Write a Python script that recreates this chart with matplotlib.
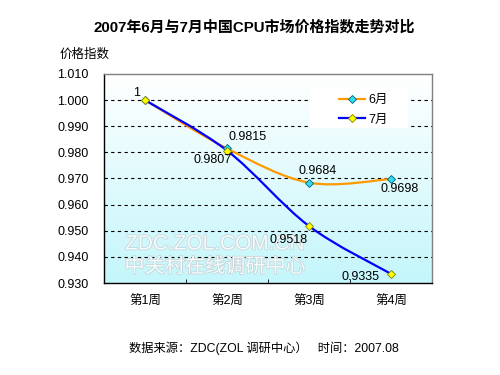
import numpy as np
import matplotlib
matplotlib.use("Agg")
import matplotlib.pyplot as plt
from matplotlib.path import Path
from matplotlib.patches import PathPatch, Rectangle
import matplotlib.patheffects as pe
from matplotlib.lines import Line2D
from matplotlib.colors import LinearSegmentedColormap

plt.rcParams['font.family'] = ['Liberation Sans', 'Noto Sans CJK SC', 'DejaVu Sans']

weeks = ['第1周', '第2周', '第3周', '第4周']
june = [1.0, 0.9815, 0.9684, 0.9698]
july = [1.0, 0.9807, 0.9518, 0.9335]
june_labels = ['', '0.9815', '0.9684', '0.9698']
july_labels = ['1', '0.9807', '0.9518', '0.9335']
yticks = [0.930, 0.940, 0.950, 0.960, 0.970, 0.980, 0.990, 1.000, 1.010]

fig = plt.figure(figsize=(5, 3.75), dpi=100)
ax = fig.add_axes([0.208, 0.2453, 0.656, 0.5574])

x = np.arange(len(weeks))
ax.set_xlim(-0.5, len(weeks) - 0.5)
ax.set_ylim(0.930, 1.010)

# gradient background: white top -> light cyan bottom
grad = np.linspace(0, 1, 256).reshape(-1, 1)
cmap = LinearSegmentedColormap.from_list('bg', ['#ffffff', '#c4f6fb'])
ax.imshow(grad, aspect='auto', cmap=cmap, extent=[-0.5, len(weeks) - 0.5, 0.930, 1.010],
          origin='upper', zorder=0)

for yv in yticks[1:-1]:
    ax.axhline(yv, color='black', lw=0.8, ls=(0, (3, 3)), zorder=1)

# legend background box
ax.add_patch(Rectangle((0.628, 0.742), 0.299, 0.196, transform=ax.transAxes,
                       facecolor='white', edgecolor='none', zorder=1.5))


def smooth_path(xs, ys):
    pts = np.column_stack([xs, ys]).astype(float)
    n = len(pts)
    verts = [pts[0]]
    codes = [Path.MOVETO]
    for i in range(n - 1):
        p0 = pts[i - 1] if i > 0 else pts[i]
        p1 = pts[i]
        p2 = pts[i + 1]
        p3 = pts[i + 2] if i + 2 < n else pts[i + 1]
        c1 = p1 + (p2 - p0) / 6.0
        c2 = p2 - (p3 - p1) / 6.0
        verts += [c1, c2, p2]
        codes += [Path.CURVE4] * 3
    return Path(verts, codes)


# watermark (behind the data labels)
wm_fx = [pe.withStroke(linewidth=1.0, foreground='#c4d0d4')]
ax.text(215 / 500, 1 - 244 / 375, 'ZDC.ZOL.COM.CN', fontsize=15, color='#f6fcfc',
        ha='center', va='center', path_effects=wm_fx, zorder=2,
        transform=fig.transFigure, family=['Liberation Sans'])
ax.text(215 / 500, 1 - 267 / 375, '中关村在线调研中心', fontsize=14.5, color='#f6fcfc',
        ha='center', va='center', path_effects=wm_fx, zorder=2,
        transform=fig.transFigure, family=['Noto Sans CJK SC'])

ax.add_patch(PathPatch(smooth_path(x, june), fill=False, edgecolor='#ff9900', lw=1.6, zorder=3))
ax.add_patch(PathPatch(smooth_path(x, july), fill=False, edgecolor='#0000ff', lw=1.6, zorder=4))
ax.plot(x, june, ls='none', marker='D', ms=4.5, mfc='#33ddee', mec='#006080', mew=0.6, zorder=5)
ax.plot(x, july, ls='none', marker='D', ms=4.5, mfc='#ffff00', mec='#808000', mew=0.6, zorder=6)

fs = 9
june_off = [(0, 0), (21, 11), (9, 12), (9, -10)]
july_off = [(-8, 7), (-14, -9), (-20, -14), (-30, -3)]
for i in range(len(weeks)):
    if june_labels[i]:
        ax.annotate(june_labels[i], (x[i], june[i]), xytext=june_off[i], textcoords='offset pixels',
                    ha='center', va='center', fontsize=fs, zorder=7)
    if july_labels[i]:
        ax.annotate(july_labels[i], (x[i], july[i]), xytext=july_off[i], textcoords='offset pixels',
                    ha='center', va='center', fontsize=fs, zorder=7)

ax.set_yticks(yticks)
ax.set_yticklabels(['%.3f' % v for v in yticks], fontsize=fs)
ax.tick_params(axis='y', length=0, pad=11)
ax.set_xticks(x)
ax.set_xticklabels(weeks, fontsize=fs)
ax.tick_params(axis='x', which='major', length=0, pad=9)
ax.set_xticks(x[:-1] + 0.5, minor=True)
ax.tick_params(axis='x', which='minor', direction='in', length=3, color='black')
for s in ['left', 'bottom']:
    ax.spines[s].set_color('black')
    ax.spines[s].set_linewidth(1)
for s in ['top', 'right']:
    ax.spines[s].set_color('#808080')
    ax.spines[s].set_linewidth(1)

# legend
h1 = Line2D([], [], color='#ff9900', lw=1.6, marker='D', ms=4.5, mfc='#33ddee', mec='#006080', mew=0.6)
h2 = Line2D([], [], color='#0000ff', lw=1.6, marker='D', ms=4.5, mfc='#ffff00', mec='#808000', mew=0.6)
leg = ax.legend([h1, h2], ['6月', '7月'], loc='upper left', bbox_to_anchor=(0.715, 0.904),
                frameon=False, fontsize=fs, handlelength=2.1, borderpad=0, borderaxespad=0,
                labelspacing=0.6, handletextpad=0.3)
leg.set_zorder(8)

fig.text(254 / 500, 1 - 27 / 375, '2007年6月与7月中国CPU市场价格指数走势对比', fontsize=10.8,
         fontweight='bold', ha='center', va='center')
fig.text(60 / 500, 1 - 55 / 375, '价格指数', fontsize=fs, ha='left', va='center')
fig.text(129 / 500, 1 - 348 / 375, '数据来源：ZDC(ZOL 调研中心）   时间：2007.08', fontsize=8.8,
         ha='left', va='center')

fig.savefig('out.png', dpi=100)
